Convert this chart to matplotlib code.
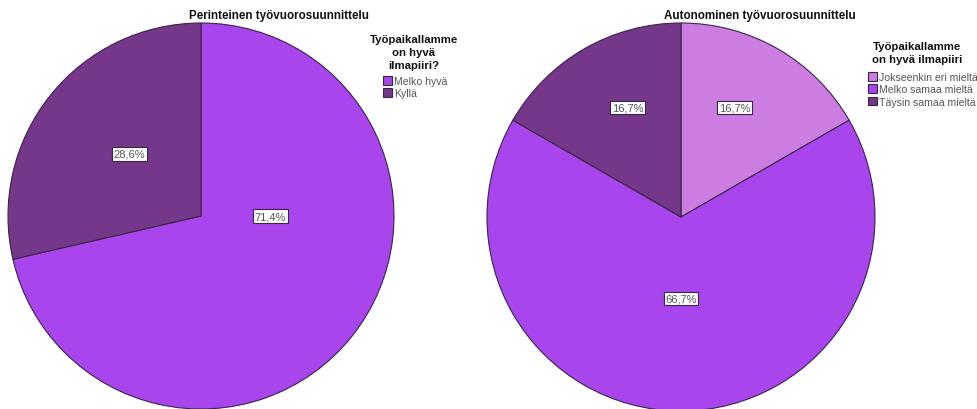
import numpy as np
import matplotlib
matplotlib.use("Agg")
import matplotlib.pyplot as plt

plt.rcParams['font.family'] = ['Liberation Sans', 'DejaVu Sans']

# Data
left_title = "Perinteinen työvuorosuunnittelu"
left_categories = ["Melko hyvä", "Kyllä"]
left_values = [71.4, 28.6]
left_legend_title = "Työpaikallamme\non hyvä\nilmapiiri?"

right_title = "Autonominen työvuorosuunnittelu"
right_categories = ["Jokseenkin eri mieltä", "Melko samaa mieltä", "Täysin samaa mieltä"]
right_values = [16.7, 66.7, 16.7]
right_legend_title = "Työpaikallamme\non hyvä ilmapiiri"

# Styling
left_colors = ["#A845ED", "#743789"]
right_colors = ["#CC7DE2", "#A845ED", "#743789"]
edge_color = "#3A2547"
W, H, DPI = 977, 410, 100

# label placement: (angle offset from slice middle in degrees, radial fraction)
left_label_pos = [(38.5, 0.36), (-2.5, 0.49)]
right_label_pos = [(4.0, 0.63), (0.0, 0.42), (-4.0, 0.63)]


def fmt(v):
    return f"{v:.1f}%".replace(".", ",")


def px(x, y):
    return x / W, 1 - y / H


def draw_pie(cx, cy, r, values, colors, labels_pos, title, title_x):
    ax = fig.add_axes([(cx - r) / W, (H - cy - r) / H, 2 * r / W, 2 * r / H])
    wedges, _ = ax.pie(values, colors=colors, startangle=90, counterclock=False,
                       radius=1.0, normalize=True,
                       wedgeprops=dict(edgecolor=edge_color, linewidth=0.8))
    ax.set_xlim(-1, 1)
    ax.set_ylim(-1, 1)
    ax.set_aspect("equal")
    ax.axis("off")
    for w, v, (doff, dist) in zip(wedges, values, labels_pos):
        mid = np.deg2rad((w.theta1 + w.theta2) / 2 + doff)
        ax.text(dist * np.cos(mid), dist * np.sin(mid), fmt(v), ha="center", va="center",
                fontsize=8, color="#555555",
                bbox=dict(boxstyle="square,pad=0.15", facecolor="white",
                          edgecolor="#3A2547", linewidth=0.8))
    fig.text(*px(title_x, 16), title, ha="center", va="center",
             fontsize=8.4, fontweight="bold", color="#111111")
    return ax, wedges


def draw_legend(handles, labels, title, title_xy, entries_xy):
    fig.text(*px(*title_xy), title, ha="center", va="top", fontsize=8.2,
             fontweight="bold", color="#111111", linespacing=1.38,
             multialignment="center")
    leg = fig.legend(handles, labels, loc="upper left", bbox_to_anchor=px(*entries_xy),
                     frameon=False, fontsize=7.6,
                     handlelength=0.85, handleheight=0.85, handletextpad=0.2,
                     labelspacing=0.22, borderpad=0.0, borderaxespad=0.0)
    for t in leg.get_texts():
        t.set_color("#555555")
    for h in leg.legend_handles:
        h.set_edgecolor(edge_color)
    return leg


fig = plt.figure(figsize=(W / DPI, H / DPI), dpi=DPI)

axL, wL = draw_pie(201, 217, 193, left_values, left_colors, left_label_pos,
                   left_title, 279)
axR, wR = draw_pie(681, 218, 194, right_values, right_colors, right_label_pos,
                   right_title, 760)

draw_legend(wL, left_categories, left_legend_title, (414, 35), (383, 77))
draw_legend(wR, right_categories, right_legend_title, (917, 42), (868, 73))

fig.savefig("out.png", dpi=DPI)
